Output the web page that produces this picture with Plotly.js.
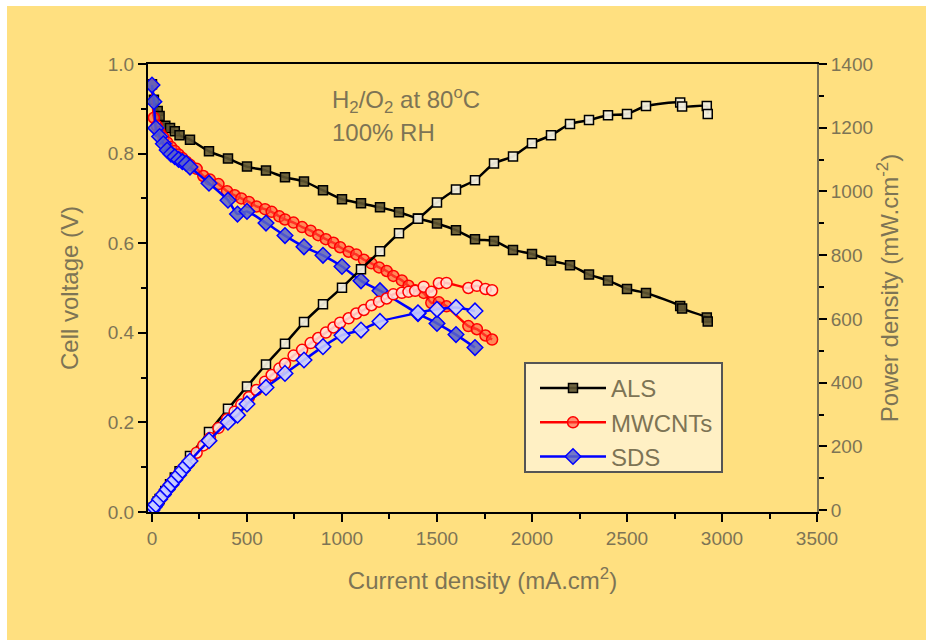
<!DOCTYPE html>
<html>
<head>
<meta charset="utf-8">
<script src="https://cdn.plot.ly/plotly-3.0.1.min.js"></script>
<style>
html,body{margin:0;padding:0;background:#ffffff;width:932px;height:640px;overflow:hidden;}
#chart{position:absolute;left:7px;top:6px;width:919px;height:634px;}
</style>
</head>
<body>
<div id="chart"></div>
<script>
// ---- Data ----
const alsCurrent = [0, 10, 30, 40, 70, 95, 120, 145, 200, 300, 400, 500, 600, 700, 800, 900, 1000, 1100, 1200, 1300, 1400, 1500, 1600, 1700, 1800, 1900, 2000, 2100, 2200, 2300, 2400, 2500, 2600, 2780, 2790, 2920, 2925];
const alsVoltage = [0.955, 0.92, 0.895, 0.884, 0.862, 0.857, 0.850, 0.841, 0.831, 0.805, 0.789, 0.771, 0.762, 0.747, 0.738, 0.718, 0.698, 0.689, 0.680, 0.669, 0.655, 0.644, 0.629, 0.609, 0.605, 0.585, 0.576, 0.561, 0.551, 0.530, 0.517, 0.498, 0.489, 0.460, 0.454, 0.434, 0.425];
const alsPower = [0, 9, 27, 35, 60, 81, 102, 122, 170, 245, 318, 388, 457, 522, 590, 646, 698, 756, 812, 869, 914, 965, 1006, 1035, 1088, 1110, 1151, 1176, 1212, 1224, 1239, 1243, 1268, 1279, 1267, 1268, 1243];

const mwCurrent = [0, 10, 25, 40, 60, 80, 100, 120, 140, 160, 180, 200, 235, 270, 305, 350, 395, 435, 470, 510, 550, 595, 630, 670, 700, 745, 790, 835, 875, 915, 955, 990, 1035, 1075, 1115, 1155, 1195, 1235, 1270, 1315, 1350, 1385, 1430, 1470, 1510, 1550, 1665, 1710, 1755, 1790];
const mwVoltage = [0.953, 0.88, 0.862, 0.848, 0.836, 0.825, 0.815, 0.806, 0.798, 0.790, 0.782, 0.775, 0.766, 0.750, 0.742, 0.732, 0.716, 0.707, 0.700, 0.692, 0.682, 0.676, 0.670, 0.660, 0.653, 0.646, 0.636, 0.628, 0.618, 0.609, 0.601, 0.591, 0.581, 0.575, 0.563, 0.555, 0.546, 0.538, 0.527, 0.517, 0.505, 0.495, 0.489, 0.467, 0.468, 0.459, 0.415, 0.408, 0.394, 0.385];
const mwPower = [0, 9, 22, 34, 50, 66, 82, 97, 112, 127, 141, 155, 180, 203, 226, 258, 285, 309, 331, 354, 377, 403, 424, 444, 459, 485, 503, 524, 540, 557, 573, 588, 602, 617, 628, 643, 654, 664, 677, 682, 685, 688, 701, 685, 712, 713, 697, 704, 694, 690];

const sdsCurrent = [0, 10, 20, 40, 60, 80, 100, 120, 140, 160, 180, 200, 300, 400, 450, 500, 600, 700, 800, 900, 1000, 1100, 1200, 1400, 1500, 1600, 1700];
const sdsVoltage = [0.953, 0.916, 0.857, 0.838, 0.822, 0.808, 0.799, 0.793, 0.787, 0.782, 0.778, 0.770, 0.734, 0.696, 0.665, 0.671, 0.645, 0.617, 0.592, 0.573, 0.548, 0.516, 0.494, 0.443, 0.421, 0.396, 0.367];
const sdsPower = [0, 9, 17, 34, 49, 65, 80, 95, 110, 125, 140, 154, 218, 276, 298, 333, 385, 429, 471, 513, 549, 565, 592, 619, 630, 636, 625];

const seriesNames = ['ALS', 'MWCNTs', 'SDS'];
const xTickVals = [0, 500, 1000, 1500, 2000, 2500, 3000, 3500];
const yTickVals = [0, 0.2, 0.4, 0.6, 0.8, 1.0];
const y2TickVals = [0, 200, 400, 600, 800, 1000, 1200, 1400];

// ---- Styles ----
const txt = '#7d7455';
const fontFam = 'Liberation Sans, Arial, sans-serif';

function vTrace(x, y, name, color, symbol, size, fill) {
  return {
    x: x, y: y, name: name, type: 'scatter', mode: 'lines+markers',
    line: {color: color, width: 2.5, shape: 'spline', smoothing: 0.6},
    marker: {symbol: symbol, size: size, color: fill, line: {color: color, width: 1.5}},
    yaxis: 'y', showlegend: true
  };
}
function pTrace(x, y, name, color, symbol, size, fill) {
  return {
    x: x, y: y, name: name + ' power', type: 'scatter', mode: 'lines+markers',
    line: {color: color, width: 2.5, shape: 'spline', smoothing: 0.6},
    marker: {symbol: symbol, size: size, color: fill, line: {color: color, width: 1.5}},
    yaxis: 'y2', showlegend: false
  };
}

const data = [
  pTrace(alsCurrent, alsPower, seriesNames[0], '#000000', 'square', 9, 'rgba(240,236,220,0.95)'),
  vTrace(alsCurrent, alsVoltage, seriesNames[0], '#000000', 'square', 9, 'rgba(95,85,50,0.9)'),
  pTrace(mwCurrent, mwPower, seriesNames[1], '#ff0000', 'circle', 11, 'rgba(255,225,220,0.85)'),
  vTrace(mwCurrent, mwVoltage, seriesNames[1], '#ff0000', 'circle', 11, 'rgba(255,80,60,0.6)'),
  pTrace(sdsCurrent, sdsPower, seriesNames[2], '#0000ff', 'diamond', 12, 'rgba(200,205,255,0.9)'),
  vTrace(sdsCurrent, sdsVoltage, seriesNames[2], '#0000ff', 'diamond', 12, 'rgba(90,100,200,0.85)')
];

// plot area in px (inside the div): left 141, width 669, top 58, height 448
const px = v => (v - 148) / 669;   // page x -> paper x
const py = v => (512 - v) / 448;   // page y -> paper y

const bg = '#ffe080';
const layout = {
  width: 919, height: 634,
  margin: {l: 141, r: 109, t: 58, b: 128},
  paper_bgcolor: bg, plot_bgcolor: bg,
  font: {family: fontFam, color: txt, size: 19},
  showlegend: true,
  legend: {
    x: px(535), y: py(366), xanchor: 'left', yanchor: 'top',
    bgcolor: 'rgba(0,0,0,0)', borderwidth: 0,
    font: {size: 24, color: txt, family: fontFam},
    itemwidth: 66, tracegroupgap: 0
  },
  shapes: [
    {type: 'rect', xref: 'paper', yref: 'paper', layer: 'above',
     x0: px(525), x1: px(722), y0: py(472), y1: py(363),
     fillcolor: '#fff0c4', line: {color: '#555555', width: 2}}
  ],
  xaxis: {
    range: [-21, 3500], tickvals: xTickVals, ticktext: xTickVals.map(String),
    showgrid: false, zeroline: false,
    showline: true, linecolor: '#000', linewidth: 2, mirror: true,
    ticks: 'outside', ticklen: 8, tickwidth: 2, tickcolor: '#000',
    minor: {dtick: 250, ticklen: 5, tickwidth: 2, tickcolor: '#000', ticks: 'outside'},
    tickfont: {size: 19, color: txt},
    title: {text: 'Current density (mA.cm<sup>2</sup>)', font: {size: 24, color: txt}, standoff: 24}
  },
  yaxis: {
    range: [0, 1.0], tickvals: yTickVals, ticktext: yTickVals.map(v => v.toFixed(1)),
    showgrid: false, zeroline: false,
    showline: true, linecolor: '#000', linewidth: 2,
    ticks: 'outside', ticklen: 8, tickwidth: 2, tickcolor: '#000',
    minor: {dtick: 0.1, ticklen: 5, tickwidth: 2, tickcolor: '#000', ticks: 'outside'},
    tickfont: {size: 19, color: txt},
    title: {text: 'Cell voltage (V)', font: {size: 24, color: txt}, standoff: 22}
  },
  yaxis2: {
    overlaying: 'y', side: 'right', anchor: 'x',
    range: [-6, 1400], tickvals: y2TickVals, ticktext: y2TickVals.map(String),
    showgrid: false, zeroline: false,
    showline: true, linecolor: '#7d7455', linewidth: 2,
    ticks: 'outside', ticklen: 8, tickwidth: 2, tickcolor: '#000',
    minor: {dtick: 100, ticklen: 5, tickwidth: 2, tickcolor: '#000', ticks: 'outside'},
    tickfont: {size: 19, color: txt},
    title: {text: 'Power density (mW.cm<sup>-2</sup>)', font: {size: 24, color: txt}, standoff: 5}
  },
  annotations: [
    {xref: 'paper', yref: 'paper', x: px(330), y: py(100), xanchor: 'left', yanchor: 'middle', showarrow: false,
     text: 'H<sub>2</sub>/O<sub>2</sub> at 80<sup>o</sup>C', font: {size: 24, color: txt}},
    {xref: 'paper', yref: 'paper', x: px(330), y: py(132), xanchor: 'left', yanchor: 'middle', showarrow: false,
     text: '100% RH', font: {size: 24, color: txt}}
  ]
};

Plotly.newPlot('chart', data, layout, {displayModeBar: false, staticPlot: true});
</script>
</body>
</html>
